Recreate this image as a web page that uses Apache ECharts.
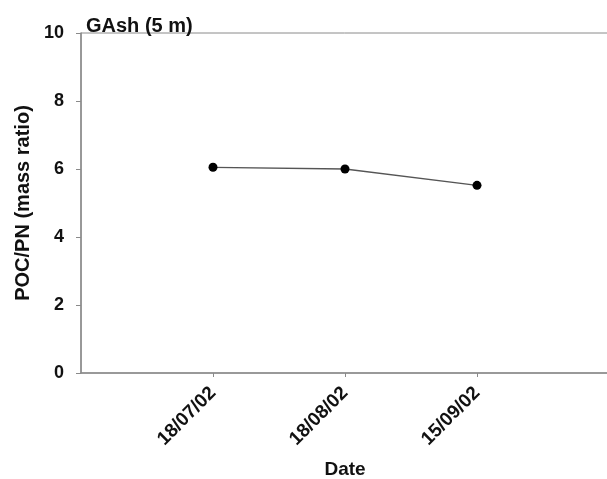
<!DOCTYPE html>
<html>
<head>
<meta charset="utf-8">
<script src="https://cdn.jsdelivr.net/npm/echarts@6/dist/echarts.min.js"></script>
<style>
  html, body { margin: 0; padding: 0; background: #fff; }
  #main { width: 607px; height: 479px; }
</style>
</head>
<body>
<div id="main"></div>
<script>
// sampling dates and the POC/PN ratio
const dates = ['18/07/02', '18/08/02', '15/09/02'];
const ratio = [6.05, 6.0, 5.52];
const yTicks = [0, 2, 4, 6, 8, 10];

const chart = echarts.init(document.getElementById('main'));

const points = dates.map((d, i) => [i + 1, ratio[i]]);
const font = 'Liberation Sans, Arial, sans-serif';
const axisGray = '#8a8a8a';

const option = {
  animation: false,
  backgroundColor: '#fff',
  title: {
    text: 'GAsh (5 m)',
    left: 81,
    top: 11,
    textStyle: { fontFamily: font, fontWeight: 'bold', fontSize: 20, color: '#111' }
  },
  grid: {
    left: 81,
    right: -2,
    top: 33,
    bottom: 106,
    outerBoundsMode: 'none',
    show: true,
    borderColor: axisGray,
    borderWidth: 1
  },
  xAxis: {
    type: 'value',
    min: 0,
    max: 4,
    interval: 1,
    name: 'Date',
    nameLocation: 'middle',
    nameGap: 87,
    nameTextStyle: { fontFamily: font, fontWeight: 'bold', fontSize: 19, color: '#111' },
    splitLine: { show: false },
    axisLine: { lineStyle: { color: axisGray, width: 1.5 } },
    axisTick: {
      length: 4,
      lineStyle: { color: axisGray },
      customValues: [1, 2, 3]
    },
    axisLabel: {
      rotate: 45,
      margin: 17,
      fontFamily: font,
      fontWeight: 'bold',
      fontSize: 19,
      color: '#111',
      customValues: [1, 2, 3],
      formatter: v => dates[v - 1] || ''
    }
  },
  yAxis: {
    type: 'value',
    min: 0,
    max: 10,
    interval: 2,
    name: 'POC/PN (mass ratio)',
    nameLocation: 'middle',
    nameGap: 47,
    nameTextStyle: { fontFamily: font, fontWeight: 'bold', fontSize: 20, color: '#111' },
    splitLine: { show: false },
    axisLine: { show: true, lineStyle: { color: axisGray, width: 1.5 } },
    axisTick: { show: true, length: 5, lineStyle: { color: axisGray } },
    axisLabel: {
      margin: 17,
      fontFamily: font,
      fontWeight: 'bold',
      fontSize: 18,
      color: '#111',
      formatter: v => (yTicks.includes(v) ? String(v) : '')
    }
  },
  series: [{
    type: 'line',
    data: points,
    symbol: 'circle',
    symbolSize: 9,
    itemStyle: { color: '#000' },
    lineStyle: { color: '#555', width: 1.3 }
  }]
};

chart.setOption(option);
</script>
</body>
</html>
